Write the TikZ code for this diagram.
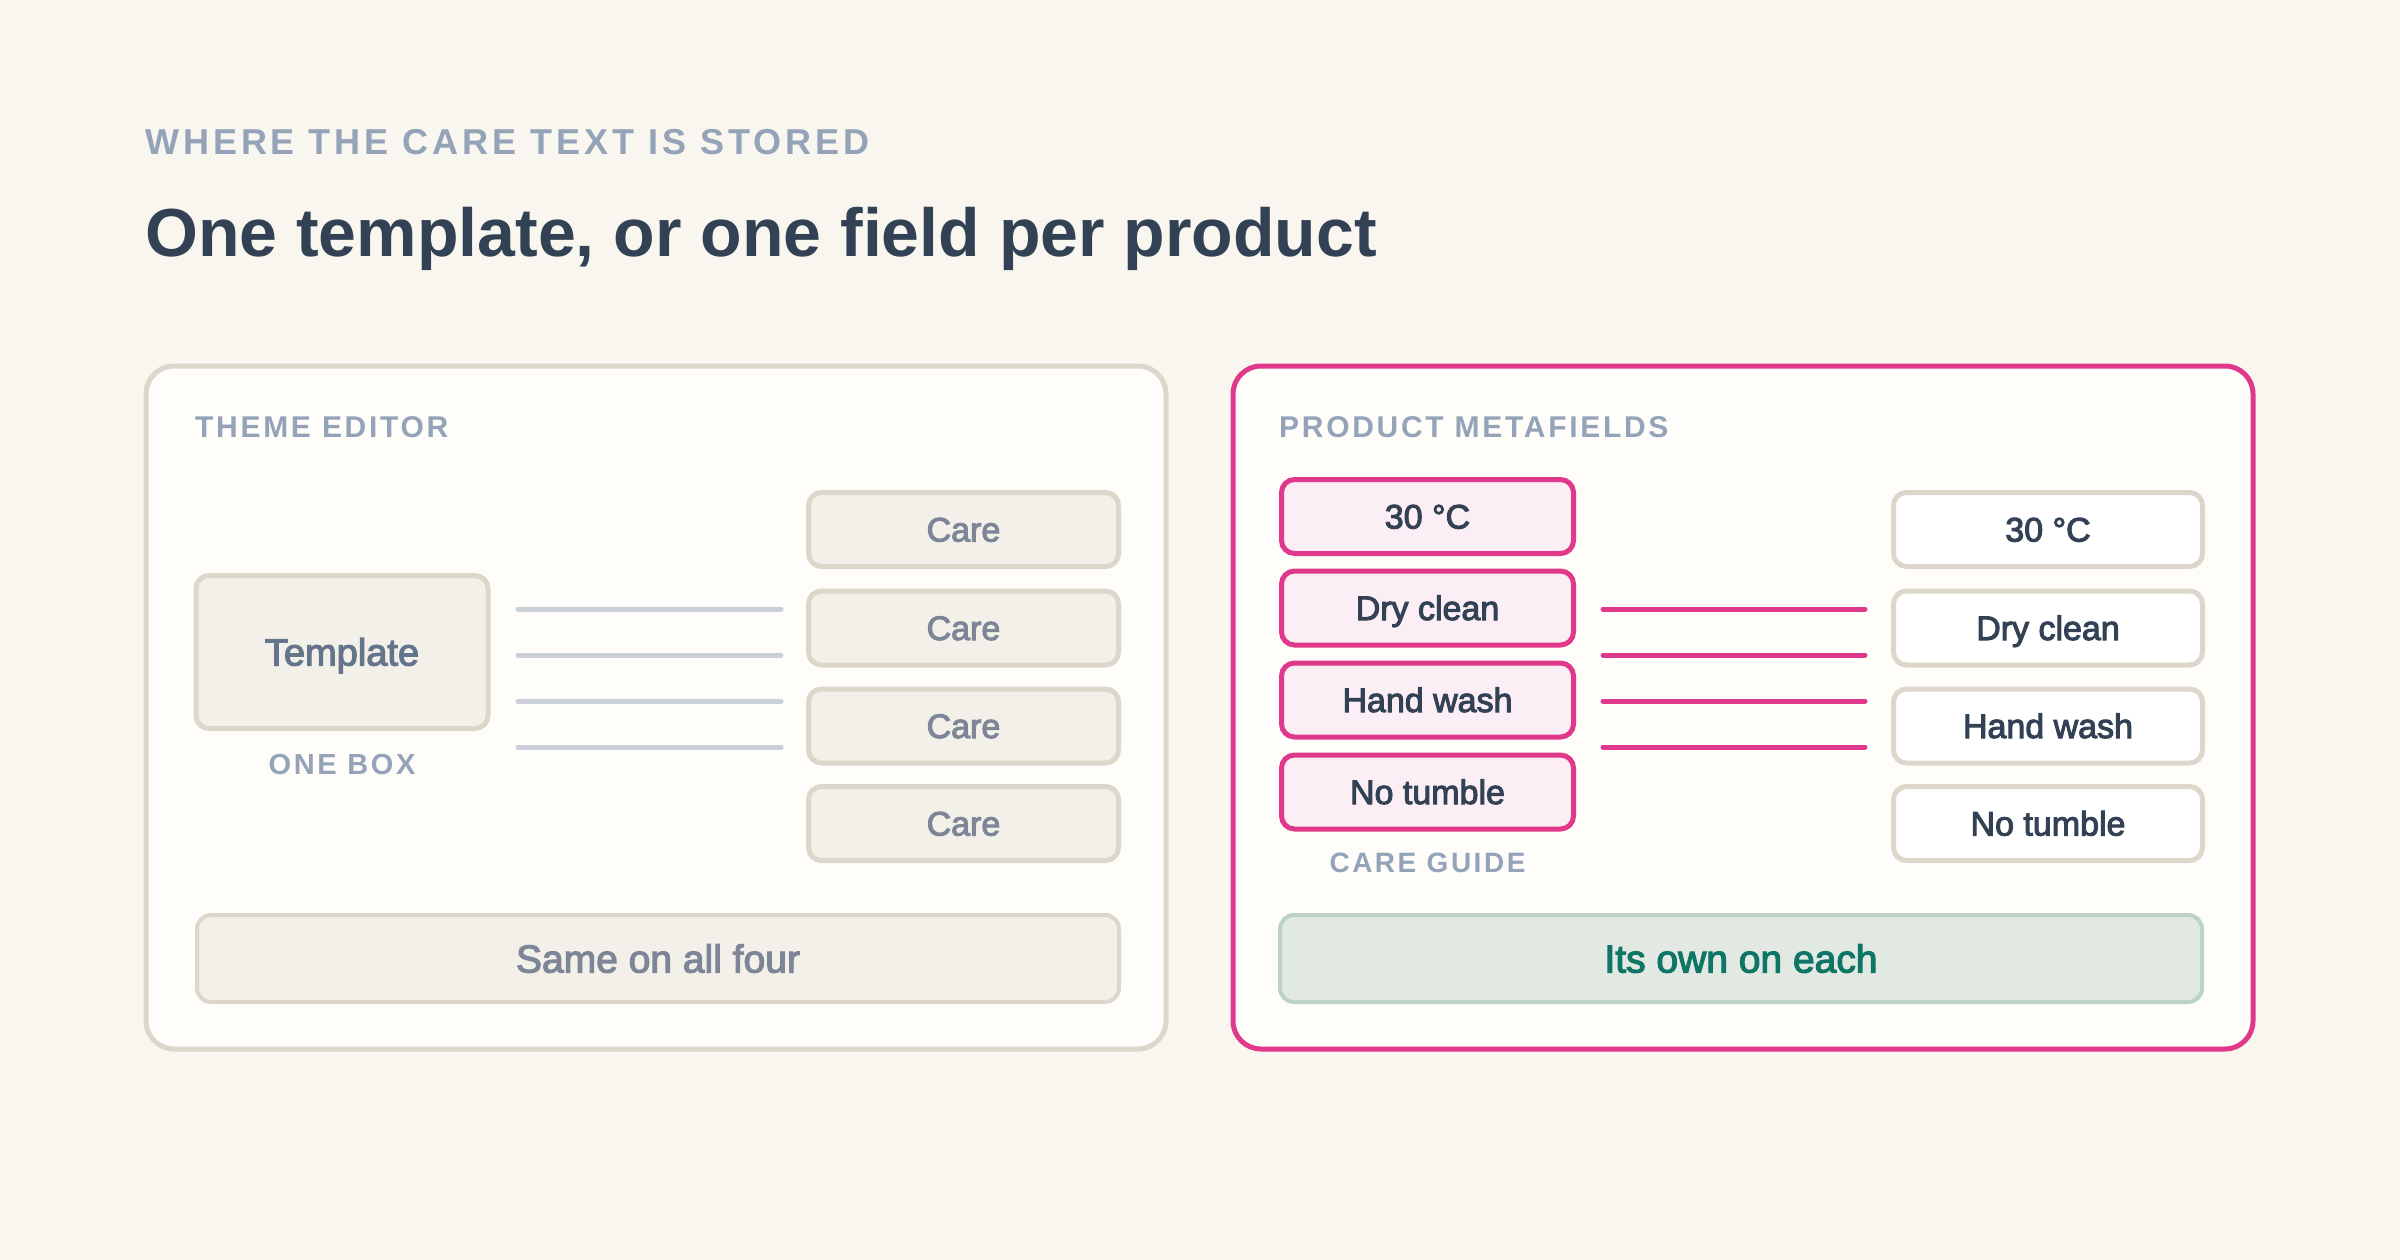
\documentclass[tikz,border=0pt]{standalone}
\usepackage{fontspec}
\setmainfont{Liberation Sans}
\newfontfamily\medfont[FakeBold=3]{Liberation Sans}
\newfontfamily\capfont[LetterSpace=9]{Liberation Sans}
\newfontfamily\kickerfont[LetterSpace=11]{Liberation Sans}
\definecolor{bg}{HTML}{F9F6F0}
\definecolor{panel}{HTML}{FEFDFA}
\definecolor{edge}{HTML}{DDD6CB}
\definecolor{boxfill}{HTML}{F3EFE9}
\definecolor{lbl}{HTML}{94A3B8}
\definecolor{ink}{HTML}{334155}
\definecolor{tplink}{HTML}{64748B}
\definecolor{muted}{HTML}{7C8696}
\definecolor{wire}{HTML}{CBD0D8}
\definecolor{pink}{HTML}{E0398B}
\definecolor{pinkfill}{HTML}{FCEEF5}
\definecolor{greenfill}{HTML}{E1E9E2}
\definecolor{greenedge}{HTML}{BCD2C5}
\definecolor{teal}{HTML}{0F7667}
\begin{document}
\begin{tikzpicture}[x=1pt,y=-1pt,
  panelbox/.style={draw=edge, line width=5pt, fill=panel, rounded corners=28pt, minimum width=1020pt, minimum height=683pt, inner sep=0pt},
  basebox/.style={line width=5pt, rounded corners=13pt, inner sep=0pt, text depth=0pt},
  graybox/.style={basebox, draw=edge, fill=boxfill, text=muted, font=\medfont\fontsize{34}{40}\selectfont, text height=24pt},
  pinkbox/.style={basebox, draw=pink, fill=pinkfill, text=ink, font=\medfont\fontsize{34}{40}\selectfont, text height=24pt, minimum width=292pt, minimum height=74pt},
  whitebox/.style={basebox, draw=edge, fill=white, text=ink, font=\medfont\fontsize{34}{40}\selectfont, text height=24pt, minimum width=309pt, minimum height=74pt},
  carebox/.style={graybox, minimum width=310pt, minimum height=74pt},
  sumbox/.style={basebox, line width=4pt, rounded corners=14pt, minimum width=922pt, minimum height=87pt, font=\medfont\fontsize{39}{46}\selectfont, text height=28pt},
  caplabel/.style={inner sep=0pt, text=lbl, font=\capfont\bfseries\fontsize{30}{36}\selectfont},
  wireL/.style={draw=wire, line width=5pt, line cap=round},
  wireP/.style={draw=pink, line width=5pt, line cap=round}
]
\fill[bg] (0,0) rectangle (2400,1260);
\useasboundingbox (0,0) rectangle (2400,1260);

% headings
\node[inner sep=0pt, anchor=west, text=lbl, font=\kickerfont\bfseries\fontsize{36}{42}\selectfont] (kicker) at (145,142.5) {WHERE THE CARE TEXT IS STORED};
\node[inner sep=0pt, anchor=base west, text=ink, font=\bfseries\fontsize{68}{80}\selectfont] (title) at (145,256) {One template, or one field per product};

% panels
\node[panelbox] (leftpanel) at (656,707.5) {};
\node[panelbox, draw=pink] (rightpanel) at (1743,707.5) {};

% left panel
\node[caplabel, anchor=west] (lefthead) at (195,427) {THEME EDITOR};
\node[graybox, text=tplink, font=\medfont\fontsize{38}{45}\selectfont, text height=27pt, minimum width=292pt, minimum height=153pt] (tpl) at (342,652) {Template};
\node[caplabel, font=\capfont\bfseries\fontsize{29}{34}\selectfont] (onebox) at (342,765) {ONE BOX};
\node[carebox] (c1) at (963.5,529.5) {Care};
\node[carebox] (c2) at (963.5,628) {Care};
\node[carebox] (c3) at (963.5,726) {Care};
\node[carebox] (c4) at (963.5,823.5) {Care};
\foreach \i/\y in {1/609,2/655,3/701,4/747}{
  \coordinate (la\i) at (518,\y);
  \coordinate (lb\i) at (781,\y);
  \draw[wireL] (la\i) -- (lb\i);
}
\node[sumbox, draw=edge, fill=boxfill, text=muted] (same) at (658,958.5) {Same on all four};

% right panel
\node[caplabel, anchor=west] (righthead) at (1279,427) {PRODUCT METAFIELDS};
\node[pinkbox] (p1) at (1427.5,516.5) {30 °C};
\node[pinkbox] (p2) at (1427.5,608) {Dry clean};
\node[pinkbox] (p3) at (1427.5,700) {Hand wash};
\node[pinkbox] (p4) at (1427.5,792) {No tumble};
\node[caplabel, font=\capfont\bfseries\fontsize{28}{34}\selectfont] (guide) at (1427.5,863) {CARE GUIDE};
\foreach \i/\y in {1/609,2/655,3/701,4/747}{
  \coordinate (ra\i) at (1603,\y);
  \coordinate (rb\i) at (1865,\y);
  \draw[wireP] (ra\i) -- (rb\i);
}
\node[whitebox] (w1) at (2048,529.5) {30 °C};
\node[whitebox] (w2) at (2048,628) {Dry clean};
\node[whitebox] (w3) at (2048,726) {Hand wash};
\node[whitebox] (w4) at (2048,823.5) {No tumble};
\node[sumbox, draw=greenedge, fill=greenfill, text=teal] (own) at (1741,958.5) {Its own on each};
\end{tikzpicture}
\end{document}
